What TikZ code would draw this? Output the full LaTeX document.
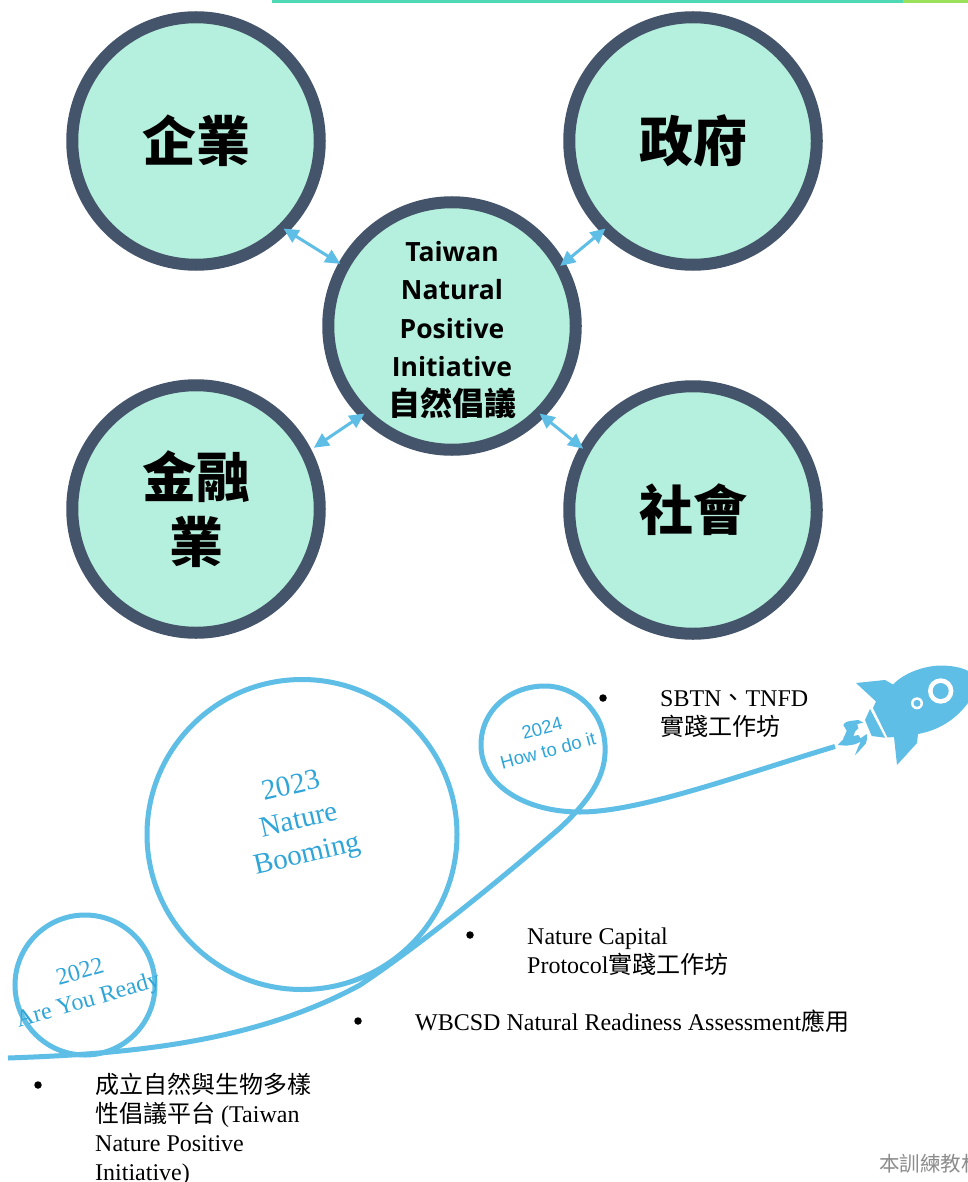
\documentclass[tikz,border=0pt]{standalone}
\usepackage{fontspec}
\setmainfont{Liberation Serif}
\newfontfamily\cjk{Noto Sans CJK TC}
\newfontfamily\hel{Liberation Sans}
\newfontfamily\opn{Open Sans}
\usetikzlibrary{arrows.meta}
\definecolor{ringc}{HTML}{44546A}
\definecolor{fillc}{HTML}{B5EFDD}
\definecolor{linec}{HTML}{5FBEE6}
\definecolor{txtb}{HTML}{2FA5D8}
\definecolor{barg}{HTML}{4FD8B4}
\definecolor{barl}{HTML}{9BE05A}
\definecolor{foot}{HTML}{8C8C8C}
\tikzset{
 hub/.style={circle,draw=ringc,fill=fillc,line width=12pt,minimum size=247.5pt,inner sep=0pt,outer sep=0pt,align=center,text=black,font=\cjk\bfseries\fontsize{54}{65}\selectfont},
 link/.style={line width=3pt,draw=linec,{Triangle[length=15pt,width=14pt]}-{Triangle[length=15pt,width=14pt]}},
 swoosh/.style={line width=5pt,draw=linec},
 item/.style={anchor=north west,inner sep=0pt,align=left,font=\fontsize{24}{29}\selectfont,text=black},
 dot/.style={circle,fill=black,inner sep=0pt,minimum size=7.5pt},
 yearb/.style={text=txtb,align=center,inner sep=0pt},
}
\begin{document}
\begin{tikzpicture}[x=1pt,y=-1pt]
\clip (0,0) rectangle (968,1182);
\fill[white] (0,0) rectangle (968,1182);
\fill[barg] (272,0) rectangle (903,3);
\fill[barl] (903,0) rectangle (968,3);
\node[hub] (tl) at (196,141) {企業};
\node[hub] (tr) at (693,141) {政府};
\node[hub] (bl) at (196,509) {金融\\業};
\node[hub] (br) at (693,510) {社會};
\node[hub,font=\opn\bfseries\fontsize{26.5}{38.5}\selectfont] (mid) at (452,326) {\rule{0pt}{28pt}Taiwan\\Natural\\Positive\\Initiative\\{\cjk\bfseries\fontsize{32}{36}\selectfont 自然倡議}};
\draw[link,shorten >=4pt] (tl.-45) -- (mid.151);
\draw[link] (tr.225) -- (mid.29.6);
\draw[link,shorten <=9pt] (bl.27) -- (mid.225);
\draw[link,shorten <=2pt] (br.151) -- (mid.-45);
% swoosh
\draw[swoosh] (85,985) circle[radius=70];
\draw[swoosh] (302,834.5) circle[radius=155];
\coordinate (start) at (8,1058);
\coordinate (rocketend) at (835,746.5);
\draw[swoosh] (start) .. controls (120,1054) and (250,1045) .. (360,985) .. controls (420,945) and (500,880) .. (560,828) .. controls (590,800) and (607,775) .. (605,745) .. controls (603,710) and (575,686) .. (545,686) .. controls (510,686) and (481,710) .. (481,745) .. controls (481,785) and (525,812) .. (580,812) .. controls (640,812) and (740,775) .. (rocketend);
% rocket
\fill[linec] (856,683) -- (885,680) -- (893,684.5) .. controls (905,672) and (925,666) .. (940,665.5) .. controls (950,665.5) and (962,667) .. (970,672) -- (970,700) .. controls (958,718) and (940,730) .. (918,734) -- (917,743) -- (897,765) -- (894,737) -- (887.5,737.5) -- (873,708) -- (876,701.5) -- cycle;
\fill[linec] (870,709) -- (865,720) -- (871.7,736) -- (885,737.7) -- cycle;
\fill[linec] (837.5,745) -- (842.7,740) -- (846.7,730.7) -- (843.3,725) .. controls (845,722) and (848,721) .. (850,721) -- (858.3,720) -- (863.3,722.7) -- (857.3,724) -- (858.3,728.3) -- (855,731.7) -- (853.3,736) -- (858.3,735) -- (860.7,738.3) -- (866.7,734) .. controls (867,738) and (867,741) .. (866,743.3) -- (860,750) -- (855,755) -- (858.3,746.7) -- (860.7,741.7) -- (855,744.3) -- (846.7,745.7) -- cycle;
\fill[white] (940.7,691) circle[radius=12.7];
\fill[linec] (940.7,691) circle[radius=8];
\fill[white] (917,703.3) circle[radius=6];
\fill[linec] (917,703.3) circle[radius=3.5];
% year labels
\node[yearb,rotate=13,font=\fontsize{29}{35}\selectfont] (y23) at (299.5,822) {2023\\Nature\\Booming};
\node[yearb,rotate=16,font=\fontsize{24}{29}\selectfont] (y22) at (84.5,987.5) {2022\\Are You Ready};
\node[yearb,rotate=15,font=\hel\fontsize{18.5}{23}\selectfont] (y24) at (545,739.5) {2024\\How to do it};
% bullets
\node[dot] (d1) at (38,1085) {};
\node[dot] (d2) at (358,1021) {};
\node[dot] (d3) at (470,935) {};
\node[dot] (d4) at (603,698) {};
\node[item] (t1) at (95,1073) {{\cjk 成立自然與生物多樣}\\{\cjk 性倡議平台} (Taiwan\\Nature Positive\\Initiative)};
\node[item] (t2) at (415,1009.5) {WBCSD Natural Readiness Assessment{\cjk 應用}};
\node[item] (t3) at (527,928) {Nature Capital\\Protocol{\cjk 實踐工作坊}};
\node[item] (t4) at (660,690) {SBTN{\cjk 、}TNFD\\{\cjk 實踐工作坊}};
\node[anchor=north west,inner sep=0pt,text=foot,font=\cjk\fontsize{20.5}{26}\selectfont] (t5) at (879,1154) {本訓練教材};
\end{tikzpicture}
\end{document}
